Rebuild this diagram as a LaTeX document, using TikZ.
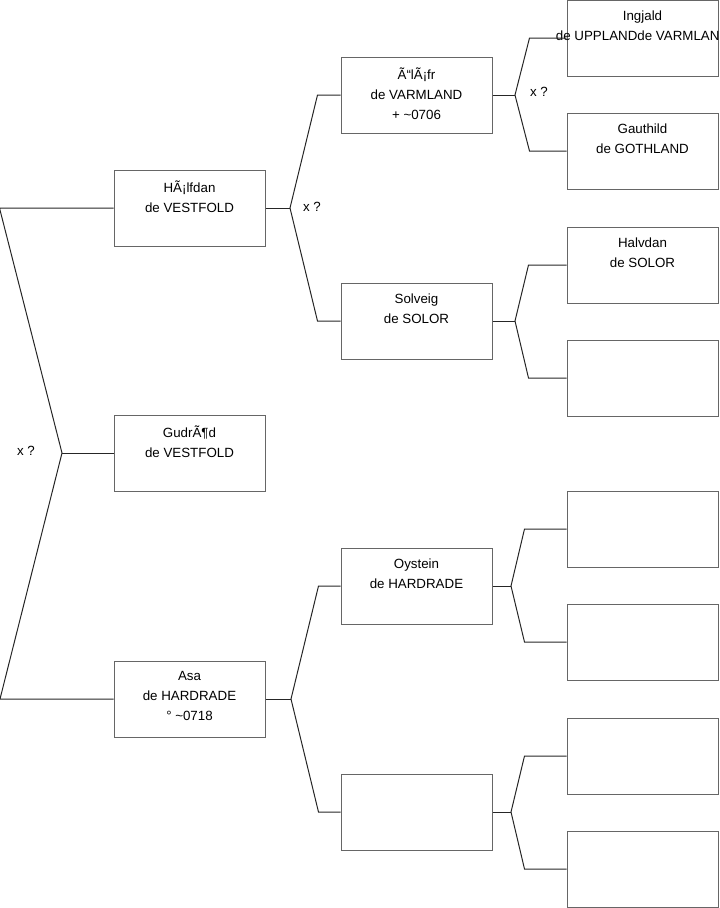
\documentclass[tikz,border=0pt]{standalone}
\usepackage{fontspec}
\setmainfont{Liberation Sans}
\usetikzlibrary{positioning, calc}

\begin{document}
\begin{tikzpicture}[
    x=0.75pt, y=-0.75pt,
    person/.style={rectangle, draw=black!60, line width=0.75pt, fill=white,
                   minimum width=113.25pt, minimum height=57pt, inner sep=0pt},
    who/.style={anchor=north, align=center, inner sep=0pt, yshift=-8pt,
                font=\fontsize{10}{15}\selectfont},
    link/.style={draw=black!85, line width=0.75pt},
    guess/.style={font=\fontsize{10}{15}\selectfont, inner sep=0pt}
]
\useasboundingbox (0,0) rectangle (719,908);
% generation 1
\node[person] (halfdan) at (189.5,208) {};
\node[person] (gudrod) at (189.5,453) {};
\node[person] (asa) at (189.5,699) {};
% generation 2
\node[person] (olofr) at (416.5,95) {};
\node[person] (solveig) at (416.5,321) {};
\node[person] (oystein) at (416.5,586) {};
\node[person] (asamom) at (416.5,812) {};
% generation 3
\node[person] (ingjald) at (642.5,38) {};
\node[person] (gauthild) at (642.5,151) {};
\node[person] (halvdan) at (642.5,265) {};
\node[person] (solmom) at (642.5,378) {};
\node[person] (oysdad) at (642.5,529) {};
\node[person] (oysmom) at (642.5,642) {};
\node[person] (asagdad) at (642.5,756) {};
\node[person] (asagmom) at (642.5,869) {};

% names
\node[who] at (halfdan.north) {HÃ¡lfdan\\de VESTFOLD};
\node[who] at (gudrod.north) {GudrÃ¶d\\de VESTFOLD};
\node[who] at (asa.north) {Asa\\de HARDRADE\\° \textasciitilde0718};
\node[who] at (olofr.north) {Ã“lÃ¡fr\\de VARMLAND\\+ \textasciitilde0706};
\node[who] at (solveig.north) {Solveig\\de SOLOR};
\node[who] at (oystein.north) {Oystein\\de HARDRADE};
\node[who] at (ingjald.north) {Ingjald\\de UPPLANDde VARMLAND};
\node[who] at (gauthild.north) {Gauthild\\de GOTHLAND};
\node[who] at (halvdan.north) {Halvdan\\de SOLOR};

% forks
\coordinate (fkroot) at (62,453);
\coordinate (fkhalf) at (290,208);
\coordinate (fkasa) at (291,699);
\coordinate (fkolof) at (515,95);
\coordinate (fksolv) at (515,321);
\coordinate (fkoyst) at (511,586);
\coordinate (fkmom) at (511,812);

\draw[link] (halfdan.west) -- ++(-114,0) -- (fkroot) -- (0,699) -- (asa.west);
\draw[link] (fkroot) -- (gudrod.west);

\draw[link] (halfdan.east) -- (fkhalf);
\draw[link] (olofr.west) -- ++(-23,0) -- (fkhalf) -- ([xshift=-17.25pt]solveig.west) -- (solveig.west);
\draw[link] (asa.east) -- (fkasa);
\draw[link] (oystein.west) -- ++(-22,0) -- (fkasa) -- ([xshift=-16.5pt]asamom.west) -- (asamom.west);

\draw[link] (olofr.east) -- (fkolof);
\draw[link] (ingjald.west) -- ++(-37,0) -- (fkolof) -- ([xshift=-27.75pt]gauthild.west) -- (gauthild.west);
\draw[link] (solveig.east) -- (fksolv);
\draw[link] (halvdan.west) -- ++(-38,0) -- (fksolv) -- ([xshift=-28.5pt]solmom.west) -- (solmom.west);
\draw[link] (oystein.east) -- (fkoyst);
\draw[link] (oysdad.west) -- ++(-42,0) -- (fkoyst) -- ([xshift=-31.5pt]oysmom.west) -- (oysmom.west);
\draw[link] (asamom.east) -- (fkmom);
\draw[link] (asagdad.west) -- ++(-42,0) -- (fkmom) -- ([xshift=-31.5pt]asagmom.west) -- (asagmom.west);

% unknown unions
\node[guess] (xroot) at (26,451) {x ?};
\node[guess] (xhalf) at (312,207) {x ?};
\node[guess] (xolof) at (539,92) {x ?};
\end{tikzpicture}
\end{document}
